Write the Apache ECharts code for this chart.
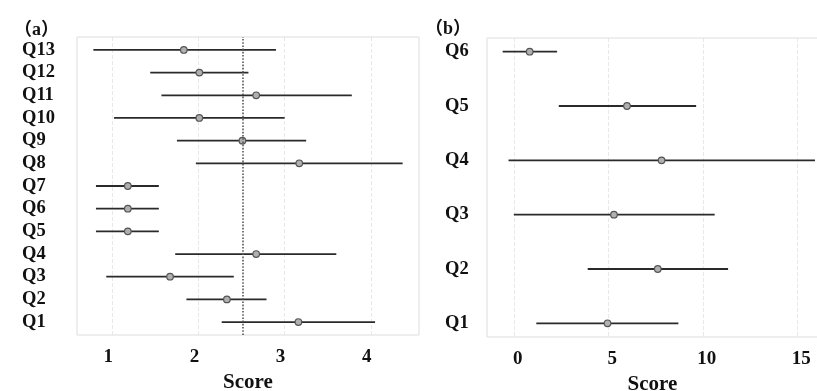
<!DOCTYPE html>
<html>
<head>
<meta charset="utf-8">
<script src="https://cdn.jsdelivr.net/npm/echarts@6.0.0/dist/echarts.min.js"></script>
<style>
html,body{margin:0;padding:0;background:#fff;}
#c{width:817px;height:391px;}
</style>
</head>
<body>
<div id="c"></div>
<script>
// Panel (a): questions Q1..Q13 (score)
var catsA = ['Q1','Q2','Q3','Q4','Q5','Q6','Q7','Q8','Q9','Q10','Q11','Q12','Q13'];
var lowA  = [2.27, 1.86, 0.93, 1.73, 0.81, 0.81, 0.81, 1.97, 1.75, 1.02, 1.57, 1.44, 0.78];
var highA = [4.05, 2.79, 2.41, 3.60, 1.54, 1.54, 1.54, 4.37, 3.25, 3.00, 3.78, 2.58, 2.90];
var meanA = [3.16, 2.33, 1.67, 2.67, 1.18, 1.18, 1.18, 3.17, 2.51, 2.01, 2.67, 2.01, 1.83];
var refLineA = 2.51;
var xTicksA = [1, 2, 3, 4];

// Panel (b): questions Q1..Q6 (score)
var catsB = ['Q1','Q2','Q3','Q4','Q5','Q6'];
var lowB  = [1.19, 3.91, 0.00, -0.28, 2.38, -0.59];
var highB = [8.71, 11.34, 10.63, 15.94, 9.65, 2.29];
var meanB = [4.96, 7.62, 5.30, 7.82, 5.99, 0.84];
var xTicksB = [0, 5, 10, 15];

var serif = "'Liberation Serif','Times New Roman'";

function rows(cats, low, high, mean) {
  return cats.map(function (c, i) { return [i + 1, low[i], high[i], mean[i]]; });
}
function idxList(cats) { return cats.map(function (c, i) { return i + 1; }); }

function renderItem(params, api) {
  var y = api.value(0);
  var p1 = api.coord([api.value(1), y]);
  var p2 = api.coord([api.value(2), y]);
  var pm = api.coord([api.value(3), y]);
  return {
    type: 'group',
    children: [
      { type: 'line', shape: { x1: p1[0], y1: p1[1], x2: p2[0], y2: p2[1] },
        style: { stroke: '#2a2a2a', lineWidth: 1.8 } },
      { type: 'circle', shape: { cx: pm[0], cy: pm[1], r: 3.3 },
        style: { fill: '#b0b0b0', stroke: '#555', lineWidth: 1.2 } }
    ]
  };
}

function xAxisDef(idx, min, max, ticks, pad, gap) {
  return {
    type: 'value', gridIndex: idx, min: min, max: max,
    axisLine: { show: false },
    axisTick: { show: false, customValues: ticks },
    splitLine: { show: true, lineStyle: { color: '#e8e8e8', type: 'dashed', width: 1 } },
    axisLabel: { customValues: ticks, color: '#111', fontFamily: serif + ',serif', fontWeight: 'bold',
                 fontSize: 19, margin: 13, padding: pad },
    name: 'Score', nameLocation: 'middle', nameGap: gap,
    nameTextStyle: { color: '#111', fontFamily: serif + ',serif', fontWeight: 'bold', fontSize: 21 }
  };
}
function yAxisDef(idx, min, max, cats, margin) {
  return {
    type: 'value', gridIndex: idx, min: min, max: max,
    axisLine: { show: false }, axisTick: { show: false, customValues: idxList(cats) },
    splitLine: { show: false },
    axisLabel: { customValues: idxList(cats), align: 'left', margin: margin,
                 color: '#111', fontFamily: serif + ',serif', fontWeight: 'bold', fontSize: 18.5,
                 formatter: function (v) { return cats[Math.round(v) - 1]; } }
  };
}

var titleFont = serif + ",'Noto Sans CJK SC',sans-serif";
var chart = echarts.init(document.getElementById('c'), null, { renderer: 'canvas' });
chart.setOption({
  animation: false,
  backgroundColor: '#fff',
  title: [
    { text: '（a）', left: 9, top: 16,
      textStyle: { fontFamily: titleFont, fontWeight: 'bold', fontSize: 18, color: '#111' } },
    { text: '（b）', left: 420, top: 15,
      textStyle: { fontFamily: titleFont, fontWeight: 'bold', fontSize: 18, color: '#111' } }
  ],
  grid: [
    { left: 77, top: 37, width: 342, height: 298, outerBoundsMode: 'none', containLabel: false,
      show: true, borderColor: '#ddd', borderWidth: 1, backgroundColor: '#fff' },
    { left: 487, top: 38, width: 331, height: 299, outerBoundsMode: 'none', containLabel: false,
      show: true, borderColor: '#ddd', borderWidth: 1, backgroundColor: '#fff' }
  ],
  xAxis: [
    xAxisDef(0, 0.59, 4.56, xTicksA, [0, 8, 0, 0], 34),
    xAxisDef(1, -1.42, 16.1, xTicksB, [0, 0, 0, 8], 30)
  ],
  yAxis: [
    yAxisDef(0, 0.43, 13.57, catsA, 55),
    yAxisDef(1, 0.748, 6.252, catsB, 42)
  ],
  series: [
    { type: 'custom', xAxisIndex: 0, yAxisIndex: 0, renderItem: renderItem,
      encode: { x: [1, 2, 3], y: 0 }, data: rows(catsA, lowA, highA, meanA),
      markLine: { silent: true, symbol: ['none', 'none'], label: { show: false },
        lineStyle: { color: '#555', type: 'dotted', width: 1.6 },
        data: [{ xAxis: refLineA }] } },
    { type: 'custom', xAxisIndex: 1, yAxisIndex: 1, renderItem: renderItem,
      encode: { x: [1, 2, 3], y: 0 }, data: rows(catsB, lowB, highB, meanB) }
  ]
});
</script>
</body>
</html>
